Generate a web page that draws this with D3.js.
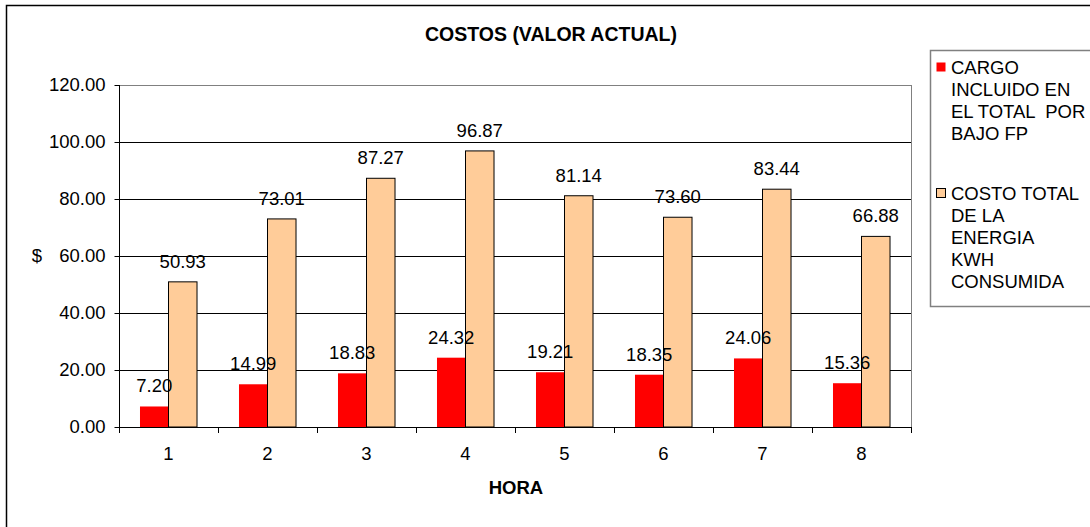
<!DOCTYPE html>
<html><head><meta charset="utf-8">
<script src="https://cdn.jsdelivr.net/npm/d3@7"></script>
<style>body{margin:0;background:#fff;}svg{display:block;font-family:"Liberation Sans",Arial,sans-serif;}</style>
</head><body>
<svg id="c" width="1090" height="527"></svg>
<script>
const categories = ["1","2","3","4","5","6","7","8"];
const cargo = [7.20,14.99,18.83,24.32,19.21,18.35,24.06,15.36];
const costo = [50.93,73.01,87.27,96.87,81.14,73.60,83.44,66.88];
const yTicks = [0,20,40,60,80,100,120];
const seriesNames = [["CARGO","INCLUIDO EN","EL TOTAL  POR","BAJO FP"],["COSTO TOTAL","DE LA","ENERGIA","KWH","CONSUMIDA"]];
const colors = ["#ff0000","#ffcc99"];
const FS = 18.5;

const svg = d3.select("#c");
const m = {l:119, t:85, r:911, b:427};
svg.append("rect").attr("x",6.5).attr("y",5.5).attr("width",1100).attr("height",600).attr("fill","#fff").attr("stroke","#000").attr("stroke-width",1.5);

const x = d3.scaleBand().domain(categories).range([m.l,m.r]);
const y = d3.scaleLinear().domain([0,120]).range([m.b,m.t]);

// gridlines
svg.append("g").selectAll("line").data(yTicks.slice(1)).join("line")
  .attr("x1",m.l).attr("x2",m.r).attr("y1",d=>Math.round(y(d))+0.5).attr("y2",d=>Math.round(y(d))+0.5)
  .attr("stroke",d=>d===120?"#808080":"#000").attr("stroke-width",1);
svg.append("line").attr("x1",m.r+0.5).attr("x2",m.r+0.5).attr("y1",m.t).attr("y2",m.b).attr("stroke","#808080");

const bw = x.bandwidth()*0.288;
const cx = c => x(c)+x.bandwidth()/2;
// bars
svg.append("g").selectAll("rect").data(categories).join("rect")
  .attr("x",c=>cx(c)-bw).attr("width",bw)
  .attr("y",(c,i)=>y(cargo[i])).attr("height",(c,i)=>y(0)-y(cargo[i]))
  .attr("fill",colors[0]);
svg.append("g").selectAll("rect").data(categories).join("rect")
  .attr("x",c=>cx(c)).attr("width",bw)
  .attr("y",(c,i)=>y(costo[i])).attr("height",(c,i)=>y(0)-y(costo[i]))
  .attr("fill",colors[1]).attr("stroke","#000").attr("stroke-width",1);

// axes
const ya = d3.axisLeft(y).tickValues(yTicks).tickFormat(d3.format(".2f")).tickSize(6).tickPadding(8);
const yg = svg.append("g").attr("transform",`translate(${m.l+0.5},0)`).call(ya);
yg.selectAll("text").attr("font-size",FS).attr("fill","#000").attr("font-family","Liberation Sans, Arial");
yg.selectAll("line").attr("stroke","#000"); yg.select(".domain").attr("stroke","#000").attr("d",`M0,${m.t}V${m.b+0.5}`);
yg.selectAll(".tick line").attr("x2",-5);

const xa = d3.axisBottom(x).tickSize(0).tickPadding(19);
const xg = svg.append("g").attr("transform",`translate(0,${m.b+0.5})`).call(xa);
xg.select(".domain").attr("stroke","#000").attr("d",`M${m.l},0H${m.r}`);
xg.selectAll("text").attr("font-size",FS).attr("fill","#000").attr("font-family","Liberation Sans, Arial");
svg.append("g").selectAll("line").data(categories.concat(["end"])).join("line")
  .attr("x1",(c,i)=>Math.round(m.l+i*x.step())+0.5).attr("x2",(c,i)=>Math.round(m.l+i*x.step())+0.5)
  .attr("y1",m.b).attr("y2",m.b+6).attr("stroke","#000");

// value labels
const lbl = svg.append("g").attr("font-size",FS).attr("text-anchor","middle").attr("fill","#000");
lbl.selectAll(".a").data(categories).join("text").attr("class","a")
  .attr("x",c=>cx(c)-bw/2).attr("y",(c,i)=>y(cargo[i])-14).text((c,i)=>cargo[i].toFixed(2));
lbl.selectAll(".b").data(categories).join("text").attr("class","b")
  .attr("x",c=>cx(c)+bw/2).attr("y",(c,i)=>y(costo[i])-14).text((c,i)=>costo[i].toFixed(2));

// titles
svg.append("text").attr("x",551).attr("y",41).attr("text-anchor","middle").attr("font-size",19.5).attr("font-weight","bold").text("COSTOS (VALOR ACTUAL)");
svg.append("text").attr("x",(m.l+m.r)/2+1).attr("y",494).attr("text-anchor","middle").attr("font-size",FS).attr("font-weight","bold").text("HORA");
svg.append("text").attr("x",37).attr("y",262).attr("text-anchor","middle").attr("font-size",FS).text("$");

// legend
const lg = svg.append("g");
lg.append("rect").attr("x",930.5).attr("y",50.5).attr("width",200).attr("height",256).attr("fill","#fff").attr("stroke","#808080").attr("stroke-width",1.5);
const starts = [74, 200];
seriesNames.forEach((lines,si)=>{
  lg.append("rect").attr("x",936.5).attr("y",starts[si]-11.5).attr("width",9).attr("height",9)
    .attr("fill",colors[si]).attr("stroke",si===1?"#000":"none");
  lines.forEach((t,li)=>{
    lg.append("text").attr("x",951).attr("y",starts[si]+li*22).attr("font-size",FS).attr("xml:space","preserve").style("white-space","pre").text(t);
  });
});
</script>
</body></html>
